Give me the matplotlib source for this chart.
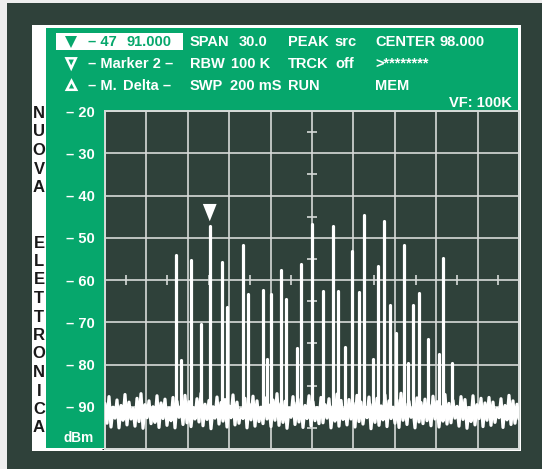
import numpy as np
import matplotlib
matplotlib.use("Agg")
import matplotlib.pyplot as plt
from matplotlib.patches import Rectangle, Polygon

# ---------------- data ----------------
freq_start, freq_stop = 83.0, 113.0          # MHz (center 98, span 30)
level_top, level_bottom = -20, -100          # dBm

peak_freq = [88.18, 88.54, 89.20, 89.99, 90.59, 91.51, 91.87, 93.00, 93.36,
             94.44, 94.76, 95.05, 95.77, 96.14, 96.93, 97.22, 97.99, 98.83,
             99.50, 99.87, 100.42, 100.91, 101.38, 101.80, 102.45, 102.81,
             103.24, 103.65, 104.09, 104.69, 104.98, 105.29, 105.72, 106.44,
             107.17, 107.51, 108.11]
peak_db = [-54.0, -79.0, -55.3, -70.3, -47.3, -55.7, -66.4, -51.8, -63.4,
           -62.3, -78.6, -63.4, -57.7, -64.6, -76.1, -56.1, -46.8, -62.6,
           -47.3, -62.6, -75.8, -53.1, -62.8, -44.6, -78.6, -56.7,
           -46.0, -66.0, -72.5, -51.8, -79.6, -66.0, -63.0, -73.9,
           -77.5, -54.7, -79.7]
marker_index = 4

noise_db = [
    -89.2, -93.9, -87.6, -94.8, -90.1, -92.7, -88.4, -95.0, -89.7, -93.2, -87.1, -94.3, -88.9, -92.9, -90.4, -94.6,
    -88.0, -93.5, -86.9, -95.1, -89.5, -92.6, -88.6, -94.0, -90.0, -93.7, -87.4, -94.9, -89.1, -92.8, -88.2, -94.4,
    -90.3, -93.3, -87.8, -95.0, -88.7, -92.5, -89.9, -94.2, -87.3, -93.8, -88.8, -94.7, -90.2, -92.9, -88.1, -93.6,
    -86.8, -94.5, -89.4, -93.0, -88.5, -95.2, -90.0, -92.7, -87.7, -94.1, -89.0, -93.4, -88.3, -94.8, -89.8, -92.6,
    -87.2, -94.3, -88.9, -93.9, -90.5, -92.8, -88.0, -95.0, -89.3, -93.1, -87.5, -94.6, -88.6, -93.5, -90.1, -94.0,
    -87.9, -92.9, -89.6, -94.7, -88.4, -93.2, -86.9, -94.4, -89.2, -93.7, -88.7, -95.1, -90.3, -92.5, -87.6, -94.2,
    -89.0, -93.6, -88.2, -94.9, -89.7, -92.8, -87.4, -94.5, -88.8, -93.3, -90.2, -94.0, -87.8, -93.8, -89.5, -92.7,
    -88.1, -95.0, -89.9, -93.4, -87.0, -94.6, -88.5, -93.0, -90.4, -94.3, -88.3, -92.9, -89.1, -94.8, -87.3, -93.5,
    -88.9, -94.1, -90.0, -92.6, -87.7, -95.2, -89.4, -93.7, -88.0, -94.4, -89.8, -93.1, -87.2, -94.7, -88.6, -92.8,
    -90.1, -93.9, -88.4, -94.9, -86.8, -93.2, -89.3, -94.2, -88.7, -92.5, -90.3, -95.0, -87.9, -93.6, -89.0, -94.0,
    -88.2, -93.3, -89.6, -94.5, -87.5, -92.9, -88.8, -94.8, -90.0, -93.4, -87.1, -94.1, -89.2, -93.8, -88.5, -92.7,
    -89.9, -94.6, -87.6, -93.0, -88.3, -95.1, -90.2, -93.5, -87.4, -94.3, -89.5, -92.8, -88.0, -94.7, -89.1, -93.2,
    -87.8, -94.4, -88.9, -93.7, -90.4, -92.6, -88.1, -94.9, -89.7, -93.1, -87.3, -94.2, -88.6, -93.9, -89.4, -92.9,
]

ytick_values = [-20, -30, -40, -50, -60, -70, -80, -90]
ytick_labels = ["\u2013 20", "\u2013 30", "\u2013 40", "\u2013 50",
                "\u2013 60", "\u2013 70", "\u2013 80", "\u2013 90"]

header_rows = [
    [("SPAN", 190), ("30.0", 239), ("PEAK", 288), ("src", 334), ("CENTER", 375), ("98.000", 440)],
    [("\u2013 Marker 2 \u2013", 87.5), ("RBW", 190), ("100 K", 231), ("TRCK", 288), ("off", 335), (">********", 375)],
    [("\u2013 M.", 87.5), ("Delta \u2013", 123), ("SWP", 190), ("200 mS", 230), ("RUN", 288), ("MEM", 375)],
]
marker_text = [("\u2013 47", 87.5), ("91.000", 126.5)]
side_text = "NUOVA  ELETTRONICA"

# ---------------- style ----------------
DARK = "#2f413a"
GREEN = "#06a76c"
GRID = "#d6dad8"
W, H = 542, 469
FONT = ["Liberation Sans", "DejaVu Sans"]
NARROW = ["Liberation Sans Narrow", "Liberation Sans", "DejaVu Sans"]
FS = 10.5

fig = plt.figure(figsize=(W / 100, H / 100), dpi=100, facecolor="#eeeeee")
bg = fig.add_axes([0, 0, 1, 1])
bg.set_xlim(0, W)
bg.set_ylim(H, 0)
bg.axis("off")

bg.add_patch(Rectangle((7, 3), W - 7, H - 3, color=DARK, lw=0))
bg.add_patch(Rectangle((32, 25), 489, 426, color="white", lw=0))
bg.add_patch(Rectangle((46, 28), 472, 420, color=GREEN, lw=0))

# marker box
bg.add_patch(Rectangle((56, 33.3), 127, 16.7, color="white", lw=0))
bg.add_patch(Polygon([(65, 36), (77, 36), (71, 48)], closed=True, color=GREEN, lw=0))
for txt, x in marker_text:
    bg.text(x, 46, txt, color=GREEN, fontsize=FS, fontweight="bold",
            family=FONT, ha="left", va="baseline")

# outline triangles
bg.add_patch(Polygon([(66.5, 58.3), (75.8, 58.3), (71.2, 68.3)], closed=True,
                     fill=False, edgecolor="white", lw=1.8, joinstyle="miter"))
bg.add_patch(Polygon([(66.8, 89.8), (76.2, 89.8), (71.5, 80.8)], closed=True,
                     fill=False, edgecolor="white", lw=1.8, joinstyle="miter"))

baselines = [46, 68, 90.5]
for row, yb in zip(header_rows, baselines):
    for txt, x in row:
        bg.text(x, yb, txt, color="white", fontsize=FS, fontweight="bold",
                family=FONT, ha="left", va="baseline")
bg.text(512, 107, "VF: 100K", color="white", fontsize=FS, fontweight="bold",
        family=FONT, ha="right", va="baseline")
bg.text(79, 441.5, "dBm", color="white", fontsize=9.8, fontweight="bold",
        family=FONT, ha="center", va="baseline")

for k, ch in enumerate(side_text):
    if ch.strip():
        bg.text(39, 112 + 18.5 * k + 6.0, ch, color="#1a1a1a", fontsize=12,
                fontweight="bold", family=NARROW, ha="center", va="baseline")

# ---------------- spectrum axes ----------------
ax = fig.add_axes([105 / W, 1 - 449 / H, 414 / W, 338 / H], facecolor=DARK)
ax.set_xlim(freq_start, freq_stop)
ax.set_ylim(level_bottom, level_top)
div_x = np.linspace(freq_start, freq_stop, 11)
ax.set_xticks(div_x)
ax.set_xticklabels([])
ax.set_yticks(ytick_values)
ax.set_yticklabels(ytick_labels)
ax.tick_params(axis="both", length=0)
ax.tick_params(axis="y", pad=7.2, labelcolor="white", labelsize=FS)
for lab in ax.get_yticklabels():
    lab.set_fontweight("bold")
    lab.set_family(FONT)
ax.set_yticks(np.arange(level_bottom, level_top + 1, 10), minor=True)
ax.grid(True, which="both", color=GRID, lw=1.2, zorder=1)
for sp in ax.spines.values():
    sp.set_color(GRID)
    sp.set_linewidth(1.4)

# centre cross minor ticks
x_center = (freq_start + freq_stop) / 2
y_center = (level_top + level_bottom) / 2
half_x = (div_x[:-1] + div_x[1:]) / 2
half_y = np.arange(level_bottom + 5, level_top, 10)
ax.plot(half_x, np.full_like(half_x, y_center), ls="none", marker="|",
        ms=7, mew=1.2, color=GRID, zorder=2)
ax.plot(np.full_like(half_y, x_center, dtype=float), half_y, ls="none", marker="_",
        ms=7, mew=1.2, color=GRID, zorder=2)

# noise floor
noise_x = np.linspace(freq_start, freq_stop, len(noise_db))
ax.plot(noise_x, noise_db, color="white", lw=2.3, zorder=3,
        solid_joinstyle="round", solid_capstyle="round", clip_on=True)

# carriers
vl = ax.vlines(peak_freq, -91.5, peak_db, colors="white", lw=2.3, zorder=4)
vl.set_capstyle("round")

# marker triangle
mf, ml = peak_freq[marker_index], peak_db[marker_index]
ax.add_patch(Polygon([(mf - 0.5, ml + 5.3), (mf + 0.5, ml + 5.3), (mf, ml + 1.2)],
                     closed=True, color="white", lw=0, zorder=5))

fig.savefig("out.png", dpi=100, facecolor=fig.get_facecolor())
